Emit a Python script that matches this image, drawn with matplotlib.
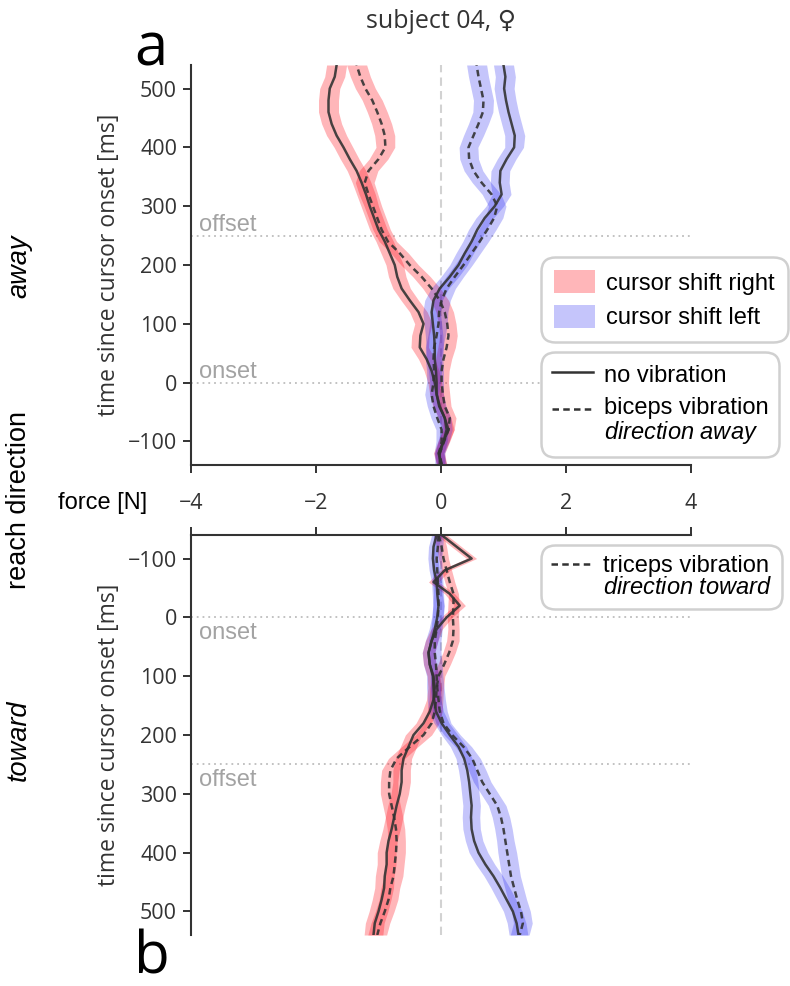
import matplotlib
matplotlib.use('Agg')
import matplotlib.pyplot as plt
import numpy as np
from matplotlib.patches import Patch
from matplotlib.lines import Line2D

plt.rcParams['font.family'] = ['Open Sans', 'DejaVu Sans']
plt.rcParams['mathtext.fontset'] = 'custom'
plt.rcParams['mathtext.it'] = 'Liberation Sans:italic'
plt.rcParams['mathtext.rm'] = 'Liberation Sans'

# ---------------- data ----------------
time_ms = [-140, -120, -100, -80, -60, -40, -20, 0, 20, 40, 60, 80, 100, 120,
           140, 160, 180, 200, 220, 240, 260, 280, 300, 320, 340, 360, 380,
           400, 420, 440, 460, 480, 500, 520, 540]

# reach direction "away" (panel a)
away_right_novib = [0.01, -0.04, 0.04, 0.12, 0.06, -0.03, -0.07, -0.10, -0.15, -0.23,
                    -0.34, -0.33, -0.28, -0.36, -0.50, -0.63, -0.70, -0.74, -0.82, -0.90,
                    -1.00, -1.07, -1.14, -1.20, -1.27, -1.35, -1.46, -1.56, -1.67, -1.75,
                    -1.80, -1.80, -1.78, -1.70, -1.67]
away_right_vib = [0.01, -0.02, 0.05, 0.12, 0.14, 0.06, 0.03, 0.01, 0.01, 0.04,
                  0.09, 0.12, 0.10, 0.06, -0.02, -0.15, -0.31, -0.50, -0.66, -0.85,
                  -0.95, -1.02, -1.09, -1.16, -1.22, -1.16, -1.00, -0.89, -0.90, -0.95,
                  -1.02, -1.10, -1.21, -1.29, -1.35]
away_left_novib = [-0.02, -0.02, 0.04, 0.09, 0.06, -0.02, -0.07, -0.07, -0.08, -0.10,
                   -0.10, -0.11, -0.13, -0.15, -0.12, -0.02, 0.14, 0.28, 0.38, 0.49,
                   0.58, 0.70, 0.86, 0.97, 0.94, 0.95, 1.05, 1.17, 1.18, 1.13,
                   1.08, 1.04, 1.01, 1.03, 1.00]
away_left_vib = [0.01, -0.03, 0.01, 0.01, -0.06, -0.12, -0.15, -0.12, -0.11, -0.12,
                 -0.11, -0.07, -0.04, -0.03, 0.01, 0.09, 0.22, 0.36, 0.49, 0.62,
                 0.74, 0.85, 0.90, 0.81, 0.65, 0.52, 0.45, 0.44, 0.52, 0.60,
                 0.67, 0.68, 0.64, 0.60, 0.57]
sem_away = [0.08, 0.08, 0.09, 0.09, 0.10, 0.10, 0.11, 0.11, 0.12, 0.13,
            0.14, 0.14, 0.14, 0.14, 0.14, 0.14, 0.14, 0.14, 0.14, 0.14,
            0.14, 0.14, 0.14, 0.15, 0.15, 0.15, 0.15, 0.15, 0.16, 0.16,
            0.16, 0.16, 0.16, 0.16, 0.16]

# reach direction "toward" (panel b)
toward_right_novib = [0.01, 0.25, 0.49, 0.06, -0.12, 0.14, 0.30, 0.09, -0.07, -0.15,
                      -0.20, -0.18, -0.12, -0.10, -0.12, -0.18, -0.28, -0.44, -0.52, -0.60,
                      -0.63, -0.63, -0.66, -0.71, -0.75, -0.79, -0.84, -0.87, -0.87, -0.90,
                      -0.91, -0.95, -1.00, -1.06, -1.08]
toward_right_vib = [-0.04, 0.01, 0.04, 0.09, 0.14, 0.20, 0.20, 0.19, 0.20, 0.19,
                    0.13, 0.05, -0.04, -0.07, -0.08, -0.10, -0.15, -0.28, -0.50, -0.71,
                    -0.81, -0.83, -0.83, -0.79, -0.75, -0.72, -0.71, -0.72, -0.74, -0.76,
                    -0.81, -0.84, -0.90, -0.97, -1.02]
toward_left_novib = [-0.07, -0.12, -0.13, -0.11, -0.07, -0.06, -0.04, -0.06, -0.10, -0.15,
                     -0.20, -0.18, -0.13, -0.12, -0.11, -0.08, 0.01, 0.14, 0.28, 0.37,
                     0.42, 0.45, 0.47, 0.49, 0.48, 0.49, 0.53, 0.60, 0.71, 0.84,
                     0.95, 1.05, 1.15, 1.21, 1.24]
toward_left_vib = [-0.04, -0.05, -0.07, -0.06, -0.05, -0.04, -0.04, -0.05, -0.07, -0.10,
                   -0.10, -0.08, -0.07, -0.06, -0.04, -0.02, 0.04, 0.18, 0.36, 0.50,
                   0.58, 0.66, 0.78, 0.90, 0.96, 1.00, 1.03, 1.06, 1.09, 1.12,
                   1.17, 1.22, 1.28, 1.31, 1.26]
sem_toward = [0.08, 0.08, 0.08, 0.08, 0.08, 0.08, 0.09, 0.09, 0.09, 0.10,
              0.10, 0.10, 0.10, 0.11, 0.11, 0.12, 0.12, 0.13, 0.13, 0.13,
              0.14, 0.14, 0.14, 0.14, 0.14, 0.14, 0.14, 0.15, 0.15, 0.15,
              0.15, 0.15, 0.15, 0.15, 0.15]

x_ticks = [-4, -2, 0, 2, 4]
y_ticks = [-100, 0, 100, 200, 300, 400, 500]
onset_ms, offset_ms = 0, 250

# ---------------- style ----------------
RED = (1.0, 0.05, 0.1)
BLUE = (0.05, 0.05, 0.95)
RED_A, BLUE_A = 0.30, 0.24
LINE_C = '#333333'
DASH = (0, (2.6, 1.7))
LIB = 'Liberation Sans'
W, H = 790, 986

fig = plt.figure(figsize=(W / 100, H / 100), dpi=100)
ax1 = fig.add_axes([191 / W, 1 - 465 / H, 500 / W, 400 / H])
ax2 = fig.add_axes([191 / W, 1 - 935 / H, 500 / W, 400 / H])


def draw(ax, rn, rv, ln, lv, sem):
    t = np.array(time_ms)
    s = np.array(sem)
    for vals, col, a in [(rn, RED, RED_A), (rv, RED, RED_A), (ln, BLUE, BLUE_A), (lv, BLUE, BLUE_A)]:
        v = np.array(vals)
        ax.fill_betweenx(t, v - s, v + s, color=col, alpha=a, lw=0, zorder=2)
    for vals, ls in [(rn, '-'), (rv, DASH), (ln, '-'), (lv, DASH)]:
        ax.plot(vals, t, color=LINE_C, ls=ls, lw=1.8, alpha=0.9, zorder=3)


draw(ax1, away_right_novib, away_right_vib, away_left_novib, away_left_vib, sem_away)
draw(ax2, toward_right_novib, toward_right_vib, toward_left_novib, toward_left_vib, sem_toward)

for ax in (ax1, ax2):
    ax.set_xlim(-4, 4)
    ax.set_xticks(x_ticks)
    ax.set_yticks(y_ticks)
    ax.axvline(0, color='#d2d2d2', ls=(0, (4, 2.5)), lw=1.5, zorder=1)
    for yv in (onset_ms, offset_ms):
        ax.axhline(yv, color='#bdbdbd', ls=(0, (1, 2.2)), lw=1.3, zorder=1)
    ax.spines['right'].set_visible(False)
    for sp in ax.spines.values():
        sp.set_color('#333333')
        sp.set_linewidth(1.5)
    ax.tick_params(direction='out', length=6, width=1.4, color='#333333',
                   labelsize=15.5, labelcolor='#333333')
    ax.tick_params(axis='y', pad=4)
    ax.set_ylabel('time since cursor onset [ms]', fontsize=16.5, color='#333333', labelpad=5)

ax1.set_ylim(-140, 540)
ax1.spines['top'].set_visible(False)
ax1.tick_params(axis='x', pad=14)

ax2.set_ylim(540, -140)
ax2.spines['bottom'].set_visible(False)
ax2.xaxis.tick_top()
ax2.tick_params(axis='x', labeltop=False)

txt_kw = dict(color='#a3a3a3', fontsize=17, family=LIB, ha='left')
ax1.text(-3.87, offset_ms, 'offset', va='bottom', **txt_kw)
ax1.text(-3.87, onset_ms, 'onset', va='bottom', **txt_kw)
ax2.text(-3.87, offset_ms + 8, 'offset', va='top', **txt_kw)
ax2.text(-3.87, onset_ms + 8, 'onset', va='top', **txt_kw)

# figure texts
fig.text(441 / W, 1 - 28 / H, 'subject 04, \u2640', ha='center', va='baseline',
         fontsize=18, color='#333333')
fig.text(151 / W, 1 - 65 / H, 'a', ha='center', va='baseline', fontsize=43, color='black')
fig.text(152 / W, 1 - 973 / H, 'b', ha='center', va='baseline', fontsize=42, color='black')
fig.text(103 / W, 1 - 509 / H, 'force [N]', ha='center', va='baseline', fontsize=17, family=LIB)
fig.text(19 / W, 1 - 500 / H, 'reach direction', ha='center', va='center', rotation=90,
         fontsize=19.5, family=LIB)
fig.text(19 / W, 1 - 266 / H, 'away', ha='center', va='center', rotation=90,
         fontsize=19.5, family=LIB, style='italic')
fig.text(19 / W, 1 - 740 / H, 'toward', ha='center', va='center', rotation=90,
         fontsize=19.5, family=LIB, style='italic')

# legends
leg_kw = dict(loc='upper left', bbox_transform=fig.transFigure, borderaxespad=0,
              prop={'family': LIB, 'size': 17}, frameon=True, fancybox=True,
              framealpha=1, edgecolor='#d0d0d0', handlelength=1.75,
              handletextpad=0.45)

h1 = [Patch(facecolor=RED, alpha=RED_A, edgecolor='none', label='cursor shift right'),
      Patch(facecolor=BLUE, alpha=BLUE_A, edgecolor='none', label='cursor shift left')]
leg1 = fig.legend(handles=h1, bbox_to_anchor=(541 / W, 1 - 257 / H), borderpad=0.55,
                  labelspacing=0.42, handleheight=1.15, **leg_kw)

h2 = [Line2D([], [], color=LINE_C, lw=1.8, label='no vibration'),
      Line2D([], [], color=LINE_C, lw=1.8, ls=DASH,
             label='biceps vibration\n$\\mathit{direction\\ away}$')]
leg2 = fig.legend(handles=h2, bbox_to_anchor=(541 / W, 1 - 352 / H), borderpad=0.45,
                  labelspacing=0.45, handleheight=1.05, **leg_kw)

h3 = [Line2D([], [], color=LINE_C, lw=1.8, ls=DASH,
             label='triceps vibration\n$\\mathit{direction\\ toward}$')]
leg3 = fig.legend(handles=h3, bbox_to_anchor=(541 / W, 1 - 545 / H), borderpad=0.42,
                  labelspacing=0.4, handleheight=1.05, **leg_kw)

for leg in (leg1, leg2, leg3):
    fr = leg.get_frame()
    fr.set_linewidth(1.8)
    fr.set_boxstyle('round,pad=0,rounding_size=0.6')
    for t in leg.get_texts():
        t.set_linespacing(1.0)

# align dashed multi-line handles with the first text line
for leg, idx in ((leg2, 1), (leg3, 0)):
    hd = leg.legend_handles[idx]
    yd = np.asarray(hd.get_ydata(), dtype=float)
    hd.set_ydata(yd + 8.5)

fig.savefig('out.png', dpi=100)
